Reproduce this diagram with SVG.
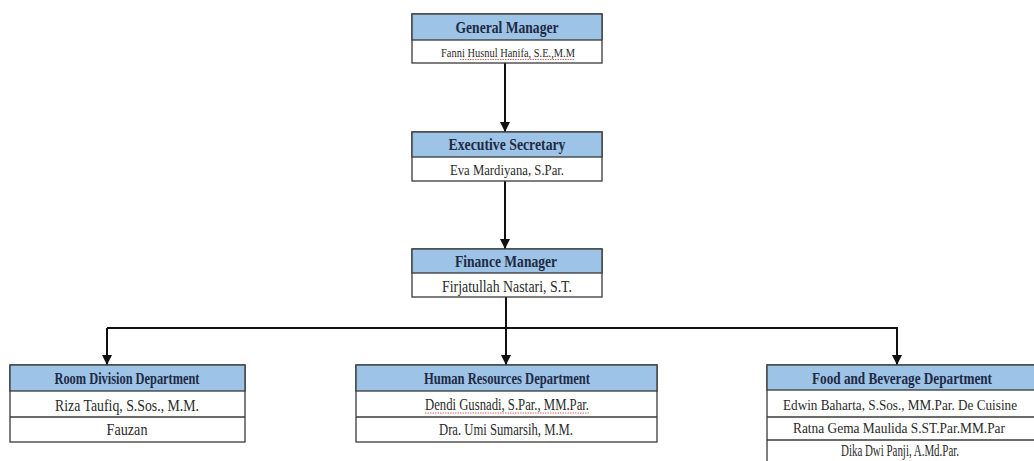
<svg xmlns="http://www.w3.org/2000/svg" width="1034" height="461" viewBox="0 0 1034 461">
<style>
.box{fill:#ffffff;stroke:#3a3a3a;stroke-width:1.3}
.hdr{fill:#9dc3e6;stroke:#3a3a3a;stroke-width:1.3}
.sep{stroke:#3a3a3a;stroke-width:1.3}
.h{font-family:"Liberation Serif","Times New Roman",serif;font-weight:bold;fill:#1f2a44;text-anchor:middle}
.n{font-family:"Liberation Serif","Times New Roman",serif;fill:#2a2a2a;text-anchor:middle}
.con{stroke:#111;stroke-width:2;fill:none}
.sq{stroke:#d04040;stroke-width:0.8;fill:none;stroke-dasharray:1.5 1}
</style>
<defs>
<marker id="arr" viewBox="0 0 10 10" refX="10" refY="5" markerWidth="5" markerHeight="5" orient="auto" markerUnits="strokeWidth">
<path d="M0,0 L10,5 L0,10 z" fill="#111"/>
</marker>
</defs>
<g id="connectors">
<line class="con" x1="505" y1="63" x2="505" y2="132" marker-end="url(#arr)"/>
<line class="con" x1="505" y1="181" x2="505" y2="249" marker-end="url(#arr)"/>
<line class="con" x1="506" y1="297" x2="506" y2="365" marker-end="url(#arr)"/>
<polyline class="con" points="107,328 897,328 897,365" marker-end="url(#arr)"/>
<line class="con" x1="107" y1="328" x2="107" y2="365" marker-end="url(#arr)"/>
</g>
<g id="general-manager">
<rect class="box" x="412" y="14" width="190" height="49"/>
<rect class="hdr" x="412" y="14" width="190" height="26"/>
<text class="h" x="507" y="33" style="font-size:17px" textLength="103" lengthAdjust="spacingAndGlyphs">General Manager</text>
<text class="n" x="508" y="57" style="font-size:13px" textLength="134" lengthAdjust="spacingAndGlyphs">Fanni Husnul Hanifa, S.E.,M.M</text>
<path class="sq" d="M460,59.5 L575,59.5"/>
</g>
<g id="executive-secretary">
<rect class="box" x="412" y="132" width="190" height="49"/>
<rect class="hdr" x="412" y="132" width="190" height="25"/>
<text class="h" x="507" y="150" style="font-size:17px" textLength="117" lengthAdjust="spacingAndGlyphs">Executive Secretary</text>
<text class="n" x="507" y="175" style="font-size:14px" textLength="114" lengthAdjust="spacingAndGlyphs">Eva Mardiyana, S.Par.</text>
</g>
<g id="finance-manager">
<rect class="box" x="412" y="249" width="190" height="48"/>
<rect class="hdr" x="412" y="249" width="190" height="24"/>
<text class="h" x="506" y="267" style="font-size:17px" textLength="102" lengthAdjust="spacingAndGlyphs">Finance Manager</text>
<text class="n" x="507" y="292" style="font-size:16px" textLength="130" lengthAdjust="spacingAndGlyphs">Firjatullah Nastari, S.T.</text>
</g>
<g id="room-division">
<rect class="box" x="10" y="365" width="235" height="77"/>
<rect class="hdr" x="10" y="365" width="235" height="26"/>
<line class="sep" x1="10" y1="417" x2="245" y2="417"/>
<text class="h" x="127" y="384" style="font-size:16px" textLength="145" lengthAdjust="spacingAndGlyphs">Room Division Department</text>
<text class="n" x="127" y="411" style="font-size:17px" textLength="144" lengthAdjust="spacingAndGlyphs">Riza Taufiq, S.Sos., M.M.</text>
<text class="n" x="127" y="435" style="font-size:17px" textLength="41" lengthAdjust="spacingAndGlyphs">Fauzan</text>
</g>
<g id="human-resources">
<rect class="box" x="356" y="365" width="301" height="77"/>
<rect class="hdr" x="356" y="365" width="301" height="26"/>
<line class="sep" x1="356" y1="417" x2="657" y2="417"/>
<text class="h" x="507" y="384" style="font-size:16px" textLength="166" lengthAdjust="spacingAndGlyphs">Human Resources Department</text>
<text class="n" x="507" y="410" style="font-size:16px" textLength="164" lengthAdjust="spacingAndGlyphs">Dendi Gusnadi, S.Par., MM.Par.</text>
<path class="sq" d="M425,413 L589,413"/>
<text class="n" x="506" y="435" style="font-size:16px" textLength="134" lengthAdjust="spacingAndGlyphs">Dra. Umi Sumarsih, M.M.</text>
</g>
<g id="food-beverage">
<rect class="box" x="767" y="365" width="268" height="100"/>
<rect class="hdr" x="767" y="365" width="268" height="25"/>
<line class="sep" x1="767" y1="417" x2="1035" y2="417"/>
<line class="sep" x1="767" y1="440" x2="1035" y2="440"/>
<text class="h" x="902" y="384" style="font-size:16px" textLength="180" lengthAdjust="spacingAndGlyphs">Food and Beverage Department</text>
<text class="n" x="900" y="410" style="font-size:14px" textLength="234" lengthAdjust="spacingAndGlyphs">Edwin Baharta, S.Sos., MM.Par. De Cuisine</text>
<text class="n" x="899" y="433" style="font-size:15px" textLength="212" lengthAdjust="spacingAndGlyphs">Ratna Gema Maulida S.ST.Par.MM.Par</text>
<text class="n" x="900" y="456" style="font-size:17px" textLength="118" lengthAdjust="spacingAndGlyphs">Dika Dwi Panji, A.Md.Par.</text>
</g>
</svg>
